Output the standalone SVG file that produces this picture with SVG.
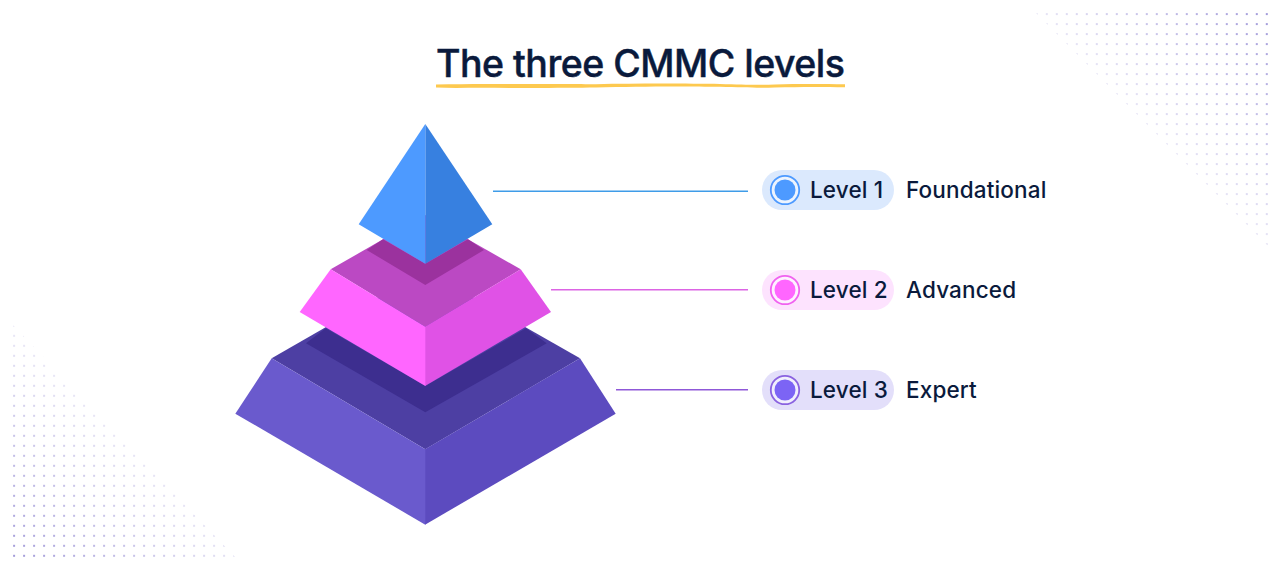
<svg xmlns="http://www.w3.org/2000/svg" width="1280" height="571" viewBox="0 0 1280 571">
<style>
text{font-family:"Inter","Noto Sans","Liberation Sans",sans-serif;fill:#0a1a3c}
.lab{font-size:22.5px;font-weight:500;letter-spacing:.15px}
.title{font-size:37.5px;font-weight:500;letter-spacing:-.5px;stroke:#0a1a3c;stroke-width:.45px}
.ring{fill:#fff;fill-opacity:.5;stroke-width:1.8}
</style>
<defs>
<pattern id="dotsA" patternUnits="userSpaceOnUse" x="1032" y="10" width="10" height="10"><rect x="3.8" y="3.1" width="2" height="2" fill="#8f86d2"/></pattern>
<pattern id="dotsB" patternUnits="userSpaceOnUse" x="10" y="322" width="10" height="10"><rect x="3.1" y="2.8" width="2" height="2" fill="#8f86d2"/></pattern>
<linearGradient id="fadeA" gradientUnits="userSpaceOnUse" x1="1150" y1="130" x2="1270" y2="10"><stop offset="0" stop-color="#fff" stop-opacity=".2"/><stop offset="1" stop-color="#fff" stop-opacity=".85"/></linearGradient>
<linearGradient id="fadeB" gradientUnits="userSpaceOnUse" x1="125" y1="440" x2="10" y2="560"><stop offset="0" stop-color="#fff" stop-opacity=".2"/><stop offset="1" stop-color="#fff" stop-opacity=".85"/></linearGradient>
<mask id="maskA" maskUnits="userSpaceOnUse" x="1020" y="0" width="260" height="250"><polygon points="1033,10 1270,10 1270,248" fill="url(#fadeA)"/></mask>
<mask id="maskB" maskUnits="userSpaceOnUse" x="0" y="310" width="250" height="261"><polygon points="10,322 10,560 238,560" fill="url(#fadeB)"/></mask>
</defs>
<rect width="1280" height="571" fill="#fff"/>
<g id="dots">
<rect x="1020" y="0" width="260" height="250" fill="url(#dotsA)" mask="url(#maskA)"/>
<rect x="0" y="310" width="250" height="261" fill="url(#dotsB)" mask="url(#maskB)"/>
</g>
<g id="title">
<text class="title" x="436" y="77">The three CMMC levels</text>
<path d="M436 84.500C470 83.500 500 84 540 84C565 83.800 585 84 596 84.200C640 83.200 690 83.500 720 84C745 84.800 760 85.200 775 84.500C800 83.700 825 84 845 84.300L845 87.300C825 86.800 800 86.700 775 87.500C760 88 745 87.600 720 86.800C690 86.300 640 86.200 596 87.500C570 88 520 88 480 87.800C465 87.800 450 88.200 436 87.500Z" fill="#fdc94f"/>
</g>
<g id="connectors" fill="none" stroke-width="1.4">
<path d="M493 191.200H748" stroke="#3f9ce8"/>
<path d="M551 289.800H748" stroke="#dc64e4"/>
<path d="M616 389.800H748" stroke="#8f58d8"/>
</g>
<g id="tier-3">
<polygon points="271.700,358.300 425.300,270 580,358.300 425.300,449.300" fill="#4d3fa3"/>
<polygon points="325.700,328.300 306,343.300 425.300,412.300 546.700,343.300 526,328.300 425.300,386" fill="#3d2e8f"/>
<polygon points="580,358.300 425,449.300 425,524.700 615.700,413.700" fill="#5c4bbf"/>
<polygon points="271.700,358.300 425.300,449.300 425.300,524.700 235.300,413.700" fill="#6a5acd"/>
</g>
<g id="tier-2">
<polygon points="330.700,269.300 425.300,215 520.700,269.300 425.300,326.700" fill="#bb49c3"/>
<polygon points="383,239.300 366.700,250 425.300,285 484,250 468,239.300 425.300,263.700" fill="#9b329e"/>
<polygon points="520.700,269.300 425,326.700 425,386 551,312" fill="#e052e6"/>
<polygon points="330.700,269.300 425.300,326.700 425.300,386 299.700,312" fill="#ff66ff"/>
</g>
<g id="tier-1">
<polygon points="425.300,124 492.300,224.300 425.300,263.700" fill="#3780e0"/>
<polygon points="425.300,124 358.700,224.300 425.300,263.700" fill="#4d9aff"/>
</g>
<g id="level-1">
<rect x="762" y="170" width="132" height="40" rx="20" fill="#dbe9fd"/>
<circle class="ring" cx="785" cy="190" r="14.200" stroke="#4d9aff"/>
<circle cx="785" cy="190" r="10.500" fill="#4d9aff"/>
<text class="lab" x="810" y="198">Level 1</text>
<text class="lab" x="906" y="198">Foundational</text>
</g>
<g id="level-2">
<rect x="762" y="270" width="132" height="40" rx="20" fill="#fde3fe"/>
<circle class="ring" cx="785" cy="290" r="14.200" stroke="#f062f0"/>
<circle cx="785" cy="290" r="10.500" fill="#ff66ff"/>
<text class="lab" x="810" y="298">Level 2</text>
<text class="lab" x="906" y="298">Advanced</text>
</g>
<g id="level-3">
<rect x="762" y="370" width="132" height="40" rx="20" fill="#e3dffa"/>
<circle class="ring" cx="785" cy="390" r="14.200" stroke="#8a62e0"/>
<circle cx="785" cy="390" r="10.500" fill="#7c64f5"/>
<text class="lab" x="810" y="398">Level 3</text>
<text class="lab" x="906" y="398">Expert</text>
</g>
</svg>
